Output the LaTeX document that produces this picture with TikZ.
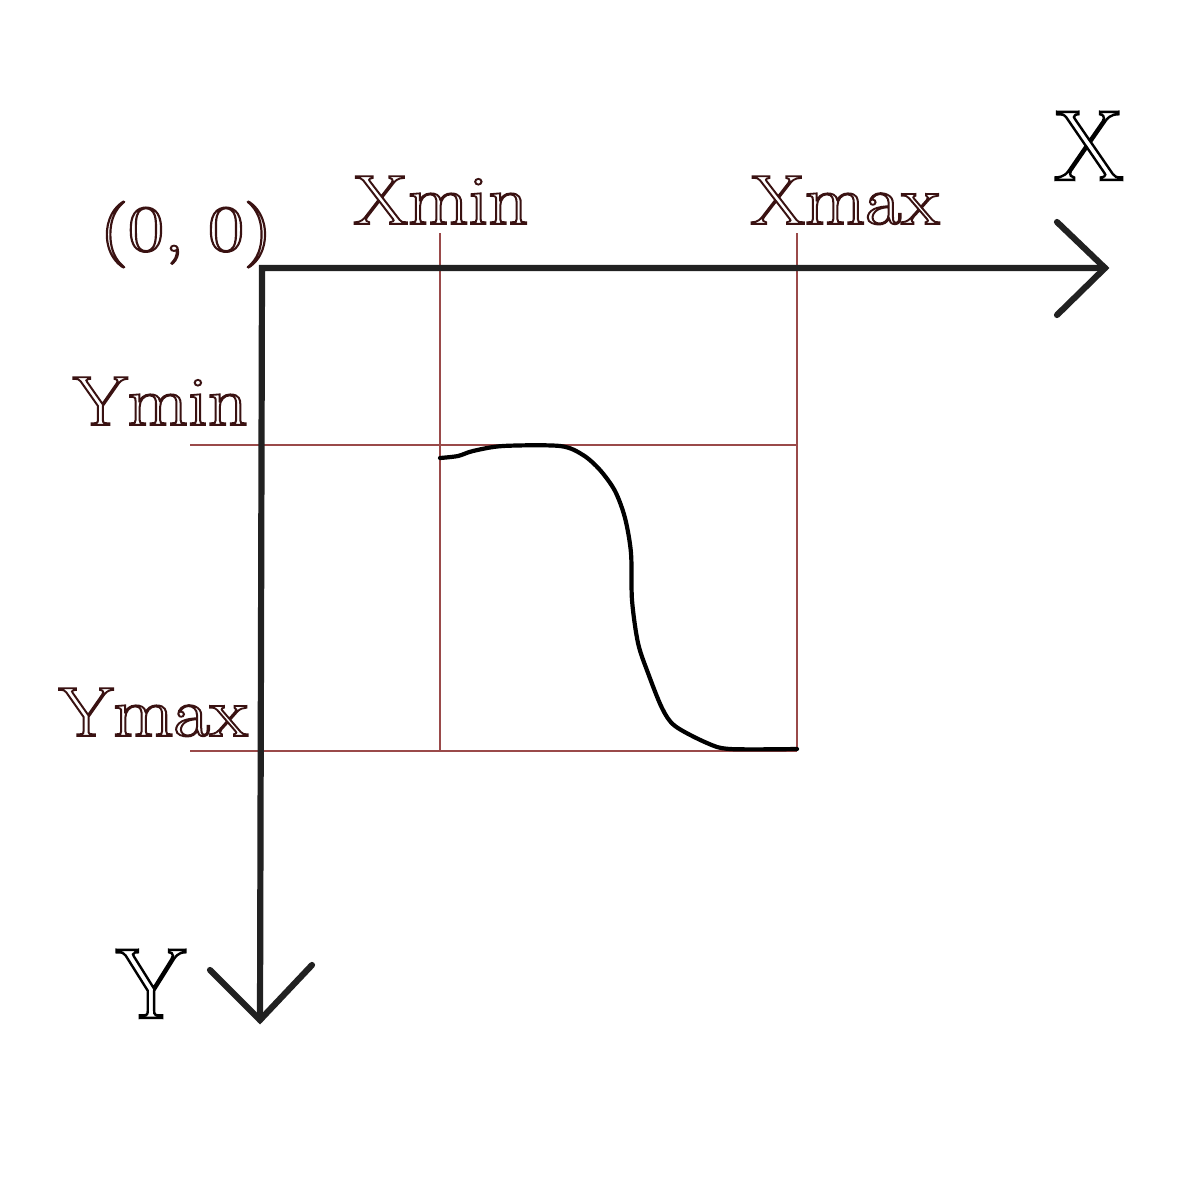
\documentclass[tikz,border=0pt]{standalone}
\definecolor{lbl}{HTML}{3A1212}
\definecolor{gridc}{HTML}{9A4A4A}
\newcommand{\hollow}[2][1.8]{\special{pdf:literal direct 1 Tr #1 w}#2\special{pdf:literal direct 0 Tr}}
\newcommand{\widen}[1]{\scalebox{1.12}[1]{#1}}
\begin{document}
\begin{tikzpicture}[x=1pt,y=-1pt,
  axis/.style={line width=6.2pt, draw=black!87, line cap=round, line join=miter},
  gridline/.style={line width=1.3pt, draw=gridc},
  curvestyle/.style={line width=4.2pt, draw=black, line cap=round, line join=round},
  lab/.style={text=lbl, font=\fontsize{70}{76}\selectfont, inner sep=0pt},
  biglab/.style={text=black, font=\fontsize{100}{110}\selectfont, inner sep=0pt}]
\useasboundingbox (0,0) rectangle (1200,1200);
\fill[white] (0,0) rectangle (1200,1200);
% coordinates
\coordinate (O) at (262,268);
\coordinate (xend) at (1105,268);
\coordinate (yend) at (260,1020);
\coordinate (xminT) at (440,233);
\coordinate (xminB) at (440,752);
\coordinate (xmaxT) at (797,233);
\coordinate (xmaxB) at (797,751);
\coordinate (yminL) at (190,445);
\coordinate (yminR) at (797,445);
\coordinate (ymaxL) at (190,751);
\coordinate (ymaxR) at (797,751);
% grid lines
\draw[gridline] (xminT) -- (xminB);
\draw[gridline] (xmaxT) -- (xmaxB);
\draw[gridline] (yminL) -- (yminR);
\draw[gridline] (ymaxL) -- (ymaxR);
% axes
\draw[axis] (xend) -- (O) -- (yend);
\draw[axis] (1057,222) -- (xend) -- (1057,315);
\draw[axis] (210,970) -- (yend) -- (312,965);
% curve
\draw[curvestyle] plot[smooth, tension=0.5] coordinates {
 (440,458) (458,456) (473,451) (503,446) (560,446) (583,455) (600,470)
 (615,491) (625,518) (631,553) (632,600) (638,643) (648,673) (662,708)
 (675,726) (707,743) (730,749) (797,749)};
% labels
\node[lab, anchor=base, font=\fontsize{66}{72}\selectfont] (origin) at (186,251) {\scalebox{1.2}[1]{\hollow{(0, 0)}}};
\node[lab, anchor=base] (xmin) at (441,224) {\widen{\hollow{Xmin}}};
\node[lab, anchor=base] (xmax) at (845,224) {\widen{\hollow{Xmax}}};
\node[lab, anchor=base east] (ymin) at (248,425) {\widen{\hollow{Ymin}}};
\node[lab, anchor=base east] (ymax) at (248,736) {\widen{\hollow{Ymax}}};
\node[biglab, anchor=base] (xlab) at (1089,180) {\hollow[2.4]{X}};
\node[biglab, anchor=base] (ylab) at (151,1018) {\hollow[2.4]{Y}};
\end{tikzpicture}
\end{document}
